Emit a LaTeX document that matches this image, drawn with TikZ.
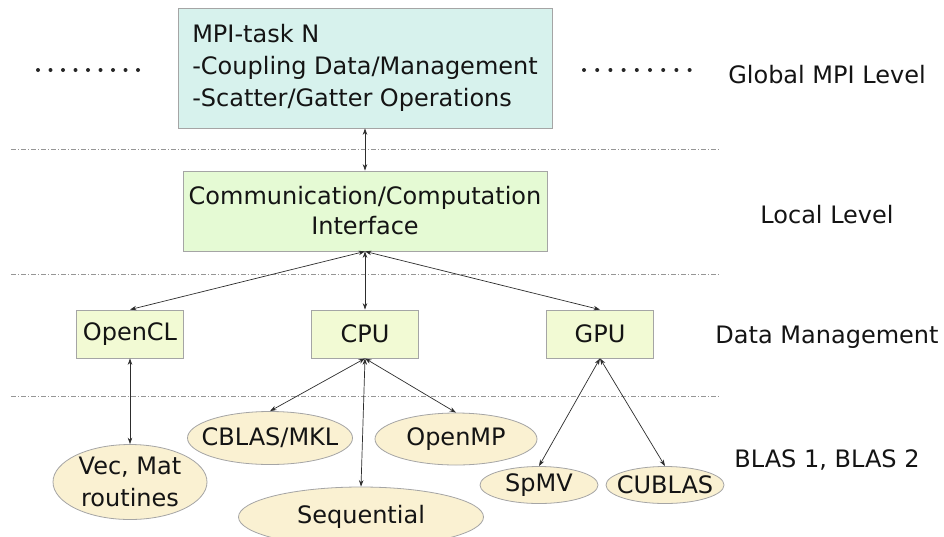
\documentclass[tikz,border=0pt]{standalone}
\usepackage{fontspec}
\setmainfont{DejaVu Sans}
\usetikzlibrary{arrows.meta,shapes.geometric}
\definecolor{topfill}{RGB}{215,242,237}
\definecolor{commfill}{RGB}{229,250,212}
\definecolor{boxfill}{RGB}{242,250,212}
\definecolor{ellfill}{RGB}{250,241,210}
\definecolor{bordergray}{RGB}{165,165,165}
\definecolor{sepgray}{RGB}{150,150,150}
\definecolor{arrowgray}{RGB}{45,45,45}
\definecolor{txt}{RGB}{20,20,20}
\begin{document}
\begin{tikzpicture}[x=1pt,y=-1pt,
  every node/.style={font=\fontsize{24}{32}\selectfont, inner sep=0pt, text=txt},
  rbox/.style={draw=bordergray, line width=0.8pt, rectangle},
  smallbox/.style={rbox, fill=boxfill, minimum width=107, minimum height=48},
  ell/.style={ellipse, draw=bordergray, fill=ellfill, line width=0.8pt, inner sep=-20pt},
  conn/.style={{Stealth[length=6.5pt,width=4.5pt]}-{Stealth[length=6.5pt,width=4.5pt]}, line width=0.7pt, draw=arrowgray},
  sepline/.style={draw=sepgray, line width=0.8pt, dash pattern=on 5pt off 2pt on 1pt off 2pt},
  lvl/.style={anchor=base}]
\useasboundingbox (0,0) rectangle (944,536);
\fill[white] (0,0) rectangle (944,536);

% separators
\draw[sepline] (11,149) -- (719,149);
\draw[sepline] (11,274) -- (719,274);
\draw[sepline] (11,396) -- (719,396);

% dots
\foreach \i in {0,...,8} {
  \fill[black!85] (38+12.5*\i,70) circle (2);
  \fill[black!85] (584+13.2*\i,70) circle (2);
}

% nodes
\node[rbox, fill=topfill, minimum width=374, minimum height=120, align=left] (mpi) at (365,68)
  {MPI-task N\\-Coupling Data/Management\\-Scatter/Gatter Operations};
\node[rbox, fill=commfill, minimum width=364, minimum height=80, align=center, font=\fontsize{24}{30}\selectfont] (comm) at (365,211)
  {Communication/Computation\\Interface};
\node[smallbox] (opencl) at (130,334) {OpenCL};
\node[smallbox] (cpu) at (365,334) {CPU};
\node[smallbox] (gpu) at (600,334) {GPU};

\node[ell, minimum width=154, minimum height=75, align=center] (vec) at (130,482) {Vec, Mat\\routines};
\node[ell, minimum width=165, minimum height=53] (cblas) at (270,438) {CBLAS/MKL};
\node[ell, minimum width=162, minimum height=52] (openmp) at (456,439) {OpenMP};
\node[ell, minimum width=245, minimum height=60] (seq) at (361,517) {Sequential};
\node[ell, minimum width=118, minimum height=37] (spmv) at (539,485) {SpMV};
\node[ell, minimum width=118, minimum height=37] (cublas) at (665,485) {CUBLAS};

% level labels
\node[lvl] (l1) at (827,83) {Global MPI Level};
\node[lvl] (l2) at (827,223) {Local Level};
\node[lvl] (l3) at (827,343) {Data Management};
\node[lvl] (l4) at (827,467) {BLAS 1, BLAS 2};

% connectors
\draw[conn] (mpi.south) -- (comm.north);
\draw[conn] (comm.south) -- (opencl.north);
\draw[conn] (comm.south) -- (cpu.north);
\draw[conn] (comm.south) -- (gpu.north);
\draw[conn] (opencl.south) -- (vec.north);
\draw[conn] (cpu.south) -- (cblas.north);
\draw[conn] (cpu.south) -- (openmp.north);
\draw[conn] (cpu.south) -- (seq.north);
\draw[conn] (gpu.south) -- (spmv.north);
\draw[conn] (gpu.south) -- (cublas.north);
\end{tikzpicture}
\end{document}
